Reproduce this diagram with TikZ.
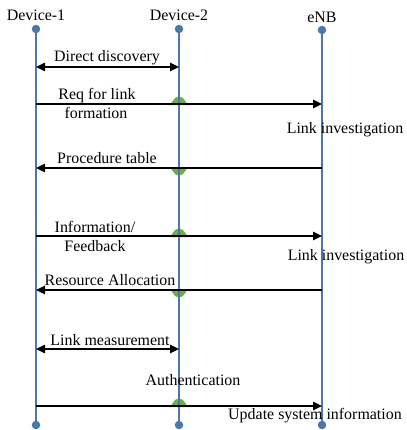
\documentclass[tikz,border=0pt]{standalone}
\usepackage{fontspec}
\setmainfont{Liberation Serif}
\usetikzlibrary{arrows.meta,calc}
\definecolor{lifeblue}{HTML}{4A78A8}
\definecolor{bumpgreen}{HTML}{70AD47}
\tikzset{
  lifeline/.style={draw=lifeblue, line width=2.2bp},
  enddot/.style={circle, fill=lifeblue, inner sep=0pt, minimum size=8.5bp},
  msg/.style={draw=black, line width=1.6bp, -{Triangle[length=9bp,width=8.5bp]}},
  msgboth/.style={draw=black, line width=1.6bp, {Triangle[length=9bp,width=8.5bp]}-{Triangle[length=9bp,width=8.5bp]}},
  lbl/.style={anchor=base, inner sep=0pt, font=\fontsize{16}{18}\selectfont},
}
\newcommand{\bumpup}[1]{\fill[bumpgreen] ($(#1)+(-11,1)$) .. controls ($(#1)+(-6,1)$) and ($(#1)+(-6.5,-7.5)$) .. ($(#1)+(0,-7.5)$) .. controls ($(#1)+(6.5,-7.5)$) and ($(#1)+(6,1)$) .. ($(#1)+(11,1)$) -- cycle;}
\newcommand{\bumpdown}[1]{\fill[bumpgreen] ($(#1)+(-11,-1)$) .. controls ($(#1)+(-6,-1)$) and ($(#1)+(-6.5,7.5)$) .. ($(#1)+(0,7.5)$) .. controls ($(#1)+(6.5,7.5)$) and ($(#1)+(6,-1)$) .. ($(#1)+(11,-1)$) -- cycle;}
\begin{document}
\begin{tikzpicture}[x=1bp,y=-1bp]
\useasboundingbox (0,0) rectangle (407,430);
% message points
\coordinate (a1) at (36,67);  \coordinate (a2) at (179,67);
\coordinate (b1) at (36,104); \coordinate (b2) at (179,104); \coordinate (b3) at (322,104);
\coordinate (c1) at (36,168); \coordinate (c2) at (179,168); \coordinate (c3) at (322,168);
\coordinate (e1) at (36,236); \coordinate (e2) at (179,236); \coordinate (e3) at (322,236);
\coordinate (f1) at (36,290); \coordinate (f2) at (179,290); \coordinate (f3) at (322,290);
\coordinate (g1) at (36,349); \coordinate (g2) at (179,349);
\coordinate (k1) at (36,406); \coordinate (k2) at (179,406); \coordinate (k3) at (322,406);
% bumps
\bumpup{b2}
\bumpdown{c2}
\bumpup{e2}
\bumpdown{f2}
\bumpup{k2}
% lifeline ends
\node[enddot] (d1top) at (36,29) {};
\node[enddot] (d2top) at (179,29) {};
\node[enddot] (entop) at (322,30) {};
\node[enddot] (d1bot) at (36,425) {};
\node[enddot] (d2bot) at (179,425) {};
\node[enddot] (enbot) at (322,425) {};
\draw[lifeline] (d1top) -- (d1bot);
\draw[lifeline] (d2top) -- (d2bot);
\draw[lifeline] (entop) -- (enbot);
% headers
\node[lbl] (h1) at (36,20) {Device-1};
\node[lbl] (h2) at (179,20) {Device-2};
\node[lbl] (h3) at (322,22) {eNB};
% messages
\draw[msgboth] (a1) -- (a2);
\draw[msg] (b1) -- (b3);
\draw[msg] (c3) -- (c1);
\draw[msg] (e1) -- (e3);
\draw[msg] (f3) -- (f1);
\draw[msgboth] (g1) -- (g2);
\draw[msg] (k1) -- (k3);
% labels
\node[lbl] (t1) at (107,61) {Direct discovery};
\node[lbl] (t2) at (97,99) {Req for link};
\node[lbl] (t3) at (96,118) {formation};
\node[lbl] (t4) at (345,133) {Link investigation};
\node[lbl] (t5) at (107,163) {Procedure table};
\node[lbl] (t6) at (95,232) {Information/};
\node[lbl] (t7) at (95,251) {Feedback};
\node[lbl] (t8) at (346,260) {Link investigation};
\node[lbl] (t9) at (110,285) {Resource Allocation};
\node[lbl] (t10) at (110,345) {Link measurement};
\node[lbl] (t11) at (193,385) {Authentication};
\node[lbl] (t12) at (315,419) {Update system information};
\end{tikzpicture}
\end{document}
